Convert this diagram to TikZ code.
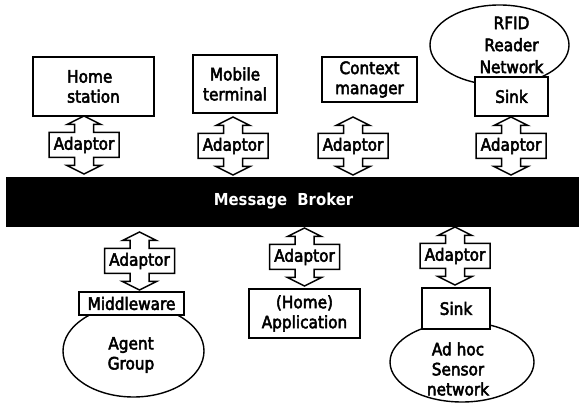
\documentclass[tikz,border=0pt]{standalone}
\usepackage{fontspec}
\setmainfont{DejaVu Sans}[FakeStretch=0.9, UprightFeatures={FakeBold=3}]
\usetikzlibrary{shapes.geometric}

\tikzset{
  unitbox/.style={draw, line width=1.5pt, fill=white, inner sep=0pt, align=center},
  cloudshape/.style={draw, ellipse, line width=1.4pt, inner sep=0pt},
  plaintext/.style={align=center, inner sep=0pt},
  adaptortext/.style={inner sep=0pt},
  adaptorline/.style={draw, line width=1.5pt, line join=miter},
  busbar/.style={fill=black, inner sep=0pt, minimum width=573, minimum height=50},
}

% An "Adaptor" label framed by a box with a double arrow through it
\newcommand\AdaptorShape[3]{%
  \node[adaptortext] (#1) at (#2,#3) {Adaptor};
  \draw[adaptorline, shift={(#1.center)}]
    (0,-29) -- (17,-20.5) -- (9.5,-20.5) -- (9.5,-12.5) -- (35,-12.5)
    -- (35,12.5) -- (9.5,12.5) -- (9.5,20.5) -- (17,20.5) -- (0,29)
    -- (-17,20.5) -- (-9.5,20.5) -- (-9.5,12.5) -- (-35,12.5)
    -- (-35,-12.5) -- (-9.5,-12.5) -- (-9.5,-20.5) -- (-17,-20.5) -- cycle;
}

\begin{document}
\begin{tikzpicture}[x=1pt, y=-1pt, font=\fontsize{17}{20}\selectfont]
\useasboundingbox (0,0) rectangle (579,403);

% message broker bus
\node[busbar] (broker) at (292.5,202) {};
\node[plaintext, anchor=base, text=white, font=\fontsize{16.5}{20}\selectfont\bfseries]
  (brokertext) at (283.5,206) {Message\ \ Broker};

% upper components
\node[unitbox, align=left, minimum width=121, minimum height=59] (home) at (93.5,86.5) {Home\\station};
\node[unitbox, minimum width=84, minimum height=58] (mobile) at (235,84) {Mobile\\terminal};
\node[unitbox, minimum width=95, minimum height=45] (context) at (369.5,79.5) {Context\\manager};
\node[cloudshape, minimum width=139, minimum height=80] (rfid) at (499.5,45) {};
\node[plaintext] (rfidtext) at (511.5,45) {RFID\\[2pt]Reader\\[2pt]Network};
\node[unitbox, minimum width=73, minimum height=39] (sinktop) at (511.5,96.5) {Sink};

\AdaptorShape{adhome}{84}{145}
\AdaptorShape{admobile}{233}{146}
\AdaptorShape{adcontext}{353}{146}
\AdaptorShape{adrfid}{511}{146}

% lower components
\node[cloudshape, minimum width=141, minimum height=92] (agents) at (133.5,351) {};
\node[plaintext] (agentstext) at (131,355) {Agent\\Group};
\node[unitbox, minimum width=105, minimum height=23] (middleware) at (131.5,303.5) {Middleware};

\node[unitbox, minimum width=111, minimum height=49] (app) at (304.5,313.5) {(Home)\\Application};

\node[cloudshape, minimum width=144, minimum height=80] (adhoc) at (462,362) {};
\node[plaintext] (adhoctext) at (458,369) {Ad hoc\\Sensor\\network};
\node[unitbox, minimum width=68, minimum height=41] (sinkbottom) at (456,308.5) {Sink};

\AdaptorShape{adagents}{139.5}{261}
\AdaptorShape{adapp}{304.5}{257}
\AdaptorShape{adsensor}{455}{256}
\end{tikzpicture}
\end{document}
